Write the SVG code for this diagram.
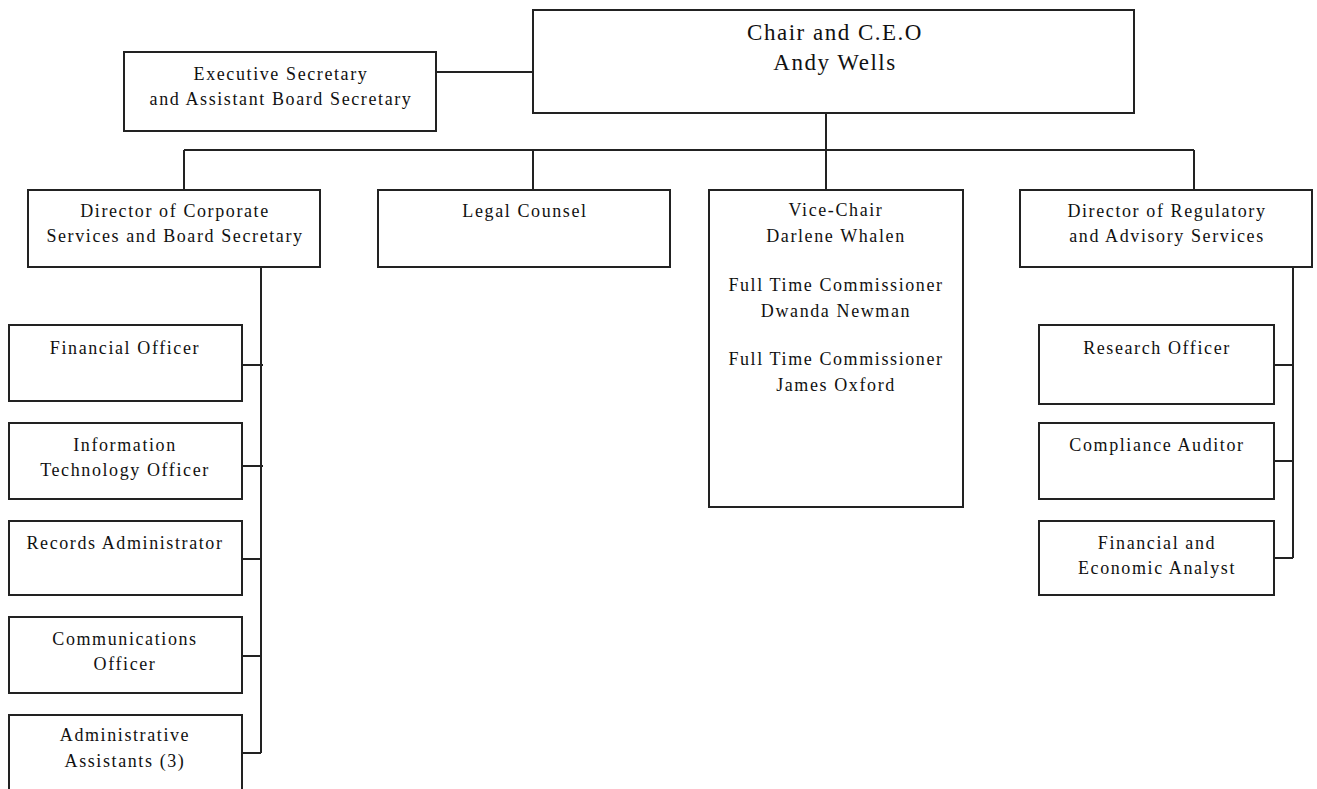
<svg xmlns="http://www.w3.org/2000/svg" width="1317" height="789" viewBox="0 0 1317 789">
<style>
.box{fill:#fff;stroke:#222;stroke-width:2}
.ln{fill:none;stroke:#222;stroke-width:2}
text{font-family:"Liberation Serif","Times New Roman",serif;font-size:18px;fill:#111;text-anchor:middle;letter-spacing:1.6px}
.big{font-size:23px;letter-spacing:1.5px}
</style>
<rect width="1317" height="789" fill="#fff"/>
<g id="connectors">
<path class="ln" d="M436 72H533"/>
<path class="ln" d="M826 113V190"/>
<path class="ln" d="M184 150H1194M184 150V190M533 150V190M1194 150V190"/>
<path class="ln" d="M261 267V753M242 365H263M242 466H263M242 559H261M242 656H261M242 753H261"/>
<path class="ln" d="M1293 267V558M1274 365H1293M1274 461H1293M1274 558H1293"/>
</g>
<g id="chair"><rect class="box" x="533" y="10" width="601" height="103"/><text class="big" x="835" y="40">Chair and C.E.O</text><text class="big" x="835" y="70">Andy Wells</text></g>
<g id="exec-secretary"><rect class="box" x="124" y="52" width="312" height="79"/><text x="281" y="80">Executive Secretary</text><text x="281" y="105">and Assistant Board Secretary</text></g>
<g id="dir-corporate"><rect class="box" x="28" y="190" width="292" height="77"/><text x="175" y="217">Director of Corporate</text><text x="175" y="242">Services and Board Secretary</text></g>
<g id="legal"><rect class="box" x="378" y="190" width="292" height="77"/><text x="525" y="217">Legal Counsel</text></g>
<g id="vice-chair"><rect class="box" x="709" y="190" width="254" height="317"/><text x="836" y="216">Vice-Chair</text><text x="836" y="242">Darlene Whalen</text><text x="836" y="291">Full Time Commissioner</text><text x="836" y="317">Dwanda Newman</text><text x="836" y="365">Full Time Commissioner</text><text x="836" y="391">James Oxford</text></g>
<g id="dir-regulatory"><rect class="box" x="1020" y="190" width="292" height="77"/><text x="1167" y="217">Director of Regulatory</text><text x="1167" y="242">and Advisory Services</text></g>
<g id="financial-officer"><rect class="box" x="9" y="325" width="233" height="76"/><text x="125" y="354">Financial Officer</text></g>
<g id="it-officer"><rect class="box" x="9" y="423" width="233" height="76"/><text x="125" y="451">Information</text><text x="125" y="476">Technology Officer</text></g>
<g id="records"><rect class="box" x="9" y="521" width="233" height="74"/><text x="125" y="549">Records Administrator</text></g>
<g id="communications"><rect class="box" x="9" y="617" width="233" height="76"/><text x="125" y="645">Communications</text><text x="125" y="670">Officer</text></g>
<g id="admin-assistants"><rect class="box" x="9" y="715" width="233" height="80"/><text x="125" y="741">Administrative</text><text x="125" y="767">Assistants (3)</text></g>
<g id="research"><rect class="box" x="1039" y="325" width="235" height="79"/><text x="1157" y="354">Research Officer</text></g>
<g id="compliance"><rect class="box" x="1039" y="423" width="235" height="76"/><text x="1157" y="451">Compliance Auditor</text></g>
<g id="fin-econ"><rect class="box" x="1039" y="521" width="235" height="74"/><text x="1157" y="549">Financial and</text><text x="1157" y="574">Economic Analyst</text></g>
</svg>
